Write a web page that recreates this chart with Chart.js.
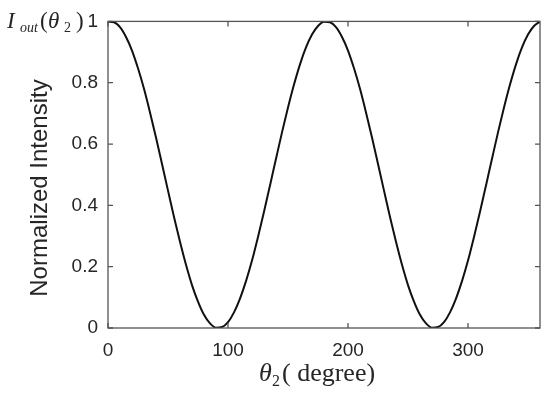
<!DOCTYPE html>
<html>
<head>
<meta charset="utf-8">
<script src="https://cdn.jsdelivr.net/npm/chart.js@4.4.0/dist/chart.umd.min.js"></script>
<style>
  html, body { margin: 0; padding: 0; background: #fff; }
  #wrap { width: 550px; height: 394px; }
</style>
</head>
<body>
<div id="wrap"><canvas id="chart" width="550" height="394"></canvas></div>
<script>
// angle theta2 in degrees, every 5 degrees
const theta = [
  0, 5, 10, 15, 20, 25, 30, 35, 40, 45, 50, 55, 60, 65, 70, 75, 80, 85, 90,
  95, 100, 105, 110, 115, 120, 125, 130, 135, 140, 145, 150, 155, 160, 165, 170, 175, 180,
  185, 190, 195, 200, 205, 210, 215, 220, 225, 230, 235, 240, 245, 250, 255, 260, 265, 270,
  275, 280, 285, 290, 295, 300, 305, 310, 315, 320, 325, 330, 335, 340, 345, 350, 355, 360
];
const intensity = [
  0.999, 0.997, 0.981, 0.949, 0.905, 0.847, 0.780, 0.703, 0.621, 0.535, 0.448, 0.362, 0.281, 0.206, 0.140, 0.086, 0.043, 0.015, 0.001,
  0.003, 0.019, 0.051, 0.096, 0.153, 0.220, 0.297, 0.379, 0.465, 0.552, 0.638, 0.719, 0.794, 0.860, 0.915, 0.957, 0.985, 0.999,
  0.997, 0.981, 0.949, 0.905, 0.847, 0.780, 0.703, 0.621, 0.535, 0.448, 0.362, 0.281, 0.206, 0.140, 0.086, 0.043, 0.015, 0.001,
  0.003, 0.019, 0.051, 0.096, 0.153, 0.220, 0.297, 0.379, 0.465, 0.552, 0.638, 0.719, 0.794, 0.860, 0.915, 0.957, 0.985, 0.999
];
const xTicks = [0, 100, 200, 300];
const yTicks = [0, 0.2, 0.4, 0.6, 0.8, 1];

const AXIS_COLOR = "#555555";
const TEXT_COLOR = "#262626";
const SANS = "'Liberation Sans', Arial, sans-serif";
const SERIF = "'Liberation Serif', 'Times New Roman', serif";

// box, inward ticks and the serif labels, MATLAB style
const boxPlugin = {
  id: "matlabBox",
  afterDraw(chart) {
    const { ctx, chartArea: a, scales } = chart;
    const x = scales.x, y = scales.y;
    ctx.save();
    ctx.strokeStyle = AXIS_COLOR;
    ctx.lineWidth = 1.3;
    ctx.strokeRect(a.left, a.top, a.right - a.left, a.bottom - a.top);
    const len = 5;
    ctx.beginPath();
    xTicks.forEach(v => {
      const px = x.getPixelForValue(v);
      ctx.moveTo(px, a.bottom); ctx.lineTo(px, a.bottom - len);
      ctx.moveTo(px, a.top); ctx.lineTo(px, a.top + len);
    });
    yTicks.forEach(v => {
      const py = y.getPixelForValue(v);
      ctx.moveTo(a.left, py); ctx.lineTo(a.left + len, py);
      ctx.moveTo(a.right, py); ctx.lineTo(a.right - len, py);
    });
    ctx.stroke();

    ctx.fillStyle = TEXT_COLOR;
    // y title
    ctx.save();
    ctx.translate(40, 188);
    ctx.rotate(-Math.PI / 2);
    ctx.font = "24px " + SANS;
    ctx.textAlign = "center";
    ctx.textBaseline = "middle";
    ctx.fillText("Normalized Intensity", 0, 0);
    ctx.restore();

    // x title: θ2 ( degree)
    ctx.textBaseline = "alphabetic";
    ctx.textAlign = "left";
    let by = 381;
    ctx.font = "italic 26px " + SERIF;
    ctx.fillText("θ", 259, by);
    ctx.font = "16px " + SERIF;
    ctx.fillText("2", 272, by + 5);
    ctx.font = "26px " + SERIF;
    ctx.fillText("( degree)", 282, by);

    // top-left label: I_out(θ2)
    by = 28;
    ctx.font = "italic 23px " + SERIF;
    ctx.fillText("I", 7, by);
    ctx.font = "italic 14px " + SERIF;
    ctx.fillText("out", 20, by + 4);
    ctx.font = "23px " + SERIF;
    ctx.fillText("(", 40, by);
    ctx.font = "italic 23px " + SERIF;
    ctx.fillText("θ", 48, by);
    ctx.font = "14px " + SERIF;
    ctx.fillText("2", 64, by + 4);
    ctx.font = "23px " + SERIF;
    ctx.fillText(")", 76, by);
    ctx.restore();
  }
};

new Chart(document.getElementById("chart"), {
  type: "line",
  data: {
    datasets: [{
      data: theta.map((t, i) => ({ x: t, y: intensity[i] })),
      borderColor: "#111111",
      borderWidth: 2,
      pointRadius: 0,
      cubicInterpolationMode: "monotone",
      fill: false
    }]
  },
  options: {
    responsive: false,
    animation: false,
    layout: { padding: { top: 21, right: 10, left: 0, bottom: 0 } },
    plugins: { legend: { display: false }, tooltip: { enabled: false } },
    scales: {
      x: {
        type: "linear",
        min: 0, max: 360,
        afterBuildTicks: s => { s.ticks = xTicks.map(v => ({ value: v })); },
        afterFit: s => { s.height = 66; },
        grid: { display: false, drawTicks: false },
        border: { display: false },
        ticks: { color: TEXT_COLOR, font: { family: SANS, size: 19 }, padding: 11, maxRotation: 0 }
      },
      y: {
        min: 0, max: 1,
        afterBuildTicks: s => { s.ticks = yTicks.map(v => ({ value: v })); },
        afterFit: s => { s.width = 108; },
        grid: { display: false, drawTicks: false },
        border: { display: false },
        ticks: {
          color: TEXT_COLOR, font: { family: SANS, size: 19 }, padding: 10,
          callback: v => String(Math.round(v * 10) / 10)
        }
      }
    }
  },
  plugins: [boxPlugin]
});
</script>
</body>
</html>
